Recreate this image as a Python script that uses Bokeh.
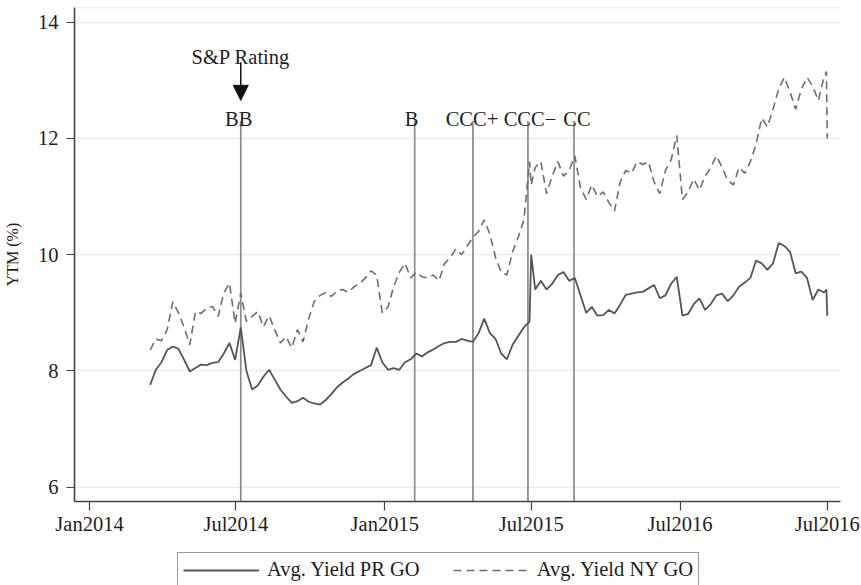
import pandas as pd
from bokeh.plotting import figure
from bokeh.layouts import column
from bokeh.models import (ColumnDataSource, FixedTicker, Span, Arrow, NormalHead,
                          Legend, LegendItem, Range1d)
from bokeh.core.properties import value
from bokeh.embed import file_html
from bokeh.resources import INLINE

# ---------------- data ----------------
dates = [
    "2014-03-17", "2014-03-24", "2014-03-31",
    "2014-04-07", "2014-04-14", "2014-04-21", "2014-04-28",
    "2014-05-05", "2014-05-12", "2014-05-19", "2014-05-26",
    "2014-06-02", "2014-06-09", "2014-06-16", "2014-06-23", "2014-06-30",
    "2014-07-07", "2014-07-14", "2014-07-21", "2014-07-28",
    "2014-08-04", "2014-08-11", "2014-08-18", "2014-08-25",
    "2014-09-01", "2014-09-08", "2014-09-15", "2014-09-22", "2014-09-29",
    "2014-10-06", "2014-10-13", "2014-10-20", "2014-10-27",
    "2014-11-03", "2014-11-10", "2014-11-17", "2014-11-24",
    "2014-12-01", "2014-12-08", "2014-12-15", "2014-12-22", "2014-12-29",
    "2015-01-05", "2015-01-12", "2015-01-19", "2015-01-26",
    "2015-02-02", "2015-02-09", "2015-02-16", "2015-02-23",
    "2015-03-02", "2015-03-09", "2015-03-16", "2015-03-23", "2015-03-30",
    "2015-04-06", "2015-04-13", "2015-04-20", "2015-04-27",
    "2015-05-04", "2015-05-11", "2015-05-18", "2015-05-25",
    "2015-06-01", "2015-06-08", "2015-06-15", "2015-06-22", "2015-06-29",
    "2015-07-01",
    "2015-07-06", "2015-07-13", "2015-07-20", "2015-07-27",
    "2015-08-03", "2015-08-10", "2015-08-17", "2015-08-24", "2015-08-31",
    "2015-09-07", "2015-09-14", "2015-09-21", "2015-09-28",
    "2015-10-05", "2015-10-12", "2015-10-19", "2015-10-26",
    "2015-11-02", "2015-11-09", "2015-11-16", "2015-11-23", "2015-11-30",
    "2015-12-07", "2015-12-14", "2015-12-21", "2015-12-28",
    "2016-01-04", "2016-01-11", "2016-01-18", "2016-01-25",
    "2016-02-01", "2016-02-08", "2016-02-15", "2016-02-22", "2016-02-29",
    "2016-03-07", "2016-03-14", "2016-03-21", "2016-03-28",
    "2016-04-04", "2016-04-11", "2016-04-18", "2016-04-25",
    "2016-05-02", "2016-05-09", "2016-05-16", "2016-05-23", "2016-05-30",
    "2016-06-06", "2016-06-13", "2016-06-20", "2016-06-27",
    "2016-06-30", "2016-07-01",
]

pr_go = [
    7.76, 8.02, 8.15,
    8.36, 8.42, 8.38, 8.19,
    7.99, 8.05, 8.11, 8.10,
    8.14, 8.15, 8.30, 8.48, 8.19,
    8.75, 8.00, 7.68, 7.75,
    7.90, 8.02, 7.85, 7.68,
    7.56, 7.45, 7.48, 7.54, 7.47,
    7.44, 7.42, 7.50, 7.60,
    7.72, 7.80, 7.87, 7.95,
    8.00, 8.05, 8.10, 8.40, 8.15,
    8.02, 8.05, 8.02, 8.15,
    8.20, 8.30, 8.25, 8.32,
    8.37, 8.43, 8.48, 8.50, 8.50,
    8.55, 8.52, 8.50, 8.65,
    8.90, 8.65, 8.55, 8.30,
    8.20, 8.45, 8.60, 8.75, 8.85,
    10.00,
    9.40, 9.55, 9.40, 9.50,
    9.65, 9.70, 9.55, 9.60, 9.30,
    9.00, 9.10, 8.95, 8.96,
    9.05, 8.99, 9.14, 9.31,
    9.33, 9.35, 9.36, 9.42, 9.48,
    9.25, 9.30, 9.50, 9.62,
    8.95, 8.98, 9.15, 9.25,
    9.05, 9.15, 9.30, 9.33, 9.20,
    9.30, 9.45, 9.52, 9.60,
    9.90, 9.85, 9.74, 9.85,
    10.20, 10.15, 10.05, 9.68, 9.71,
    9.60, 9.22, 9.40, 9.35,
    9.40, 8.95,
]

ny_go = [
    8.36, 8.55, 8.52,
    8.71, 9.19, 9.00, 8.75,
    8.45, 9.02, 8.99, 9.08,
    9.11, 8.94, 9.34, 9.51, 8.82,
    9.34, 8.85, 8.94, 9.02,
    8.76, 8.95, 8.71, 8.48,
    8.59, 8.40, 8.71, 8.50, 8.90,
    9.20, 9.30, 9.35, 9.28,
    9.38, 9.40, 9.35, 9.45,
    9.50, 9.60, 9.72, 9.65, 9.00,
    9.10, 9.45, 9.70, 9.85,
    9.60, 9.70, 9.62, 9.60,
    9.65, 9.55, 9.85, 9.95, 10.10,
    10.00, 10.15, 10.30, 10.40,
    10.60, 10.35, 9.95, 9.70,
    9.65, 10.05, 10.30, 10.60, 11.60,
    11.20,
    11.50, 11.60, 11.05, 11.35,
    11.60, 11.35, 11.45, 11.70, 11.15,
    10.95, 11.20, 11.00, 11.08,
    10.90, 10.75, 11.25, 11.45,
    11.40, 11.60, 11.55, 11.60, 11.25,
    11.05, 11.45, 11.63, 12.05,
    10.95, 11.08, 11.30, 11.11,
    11.35, 11.50, 11.70, 11.50, 11.28,
    11.20, 11.50, 11.40, 11.60,
    11.90, 12.35, 12.20, 12.50,
    12.85, 13.05, 12.80, 12.50, 12.85,
    13.05, 12.90, 12.65, 13.05,
    13.15, 12.00,
]

rating_dates = ["2014-07-07", "2015-02-07", "2015-04-20", "2015-06-27", "2015-08-23"]
rating_labels = ["BB", "B", "CCC+", "CCC\u2212", "CC"]

x_tick_dates = ["2014-01-01", "2014-07-01", "2015-01-01", "2015-07-01", "2016-01-01", "2016-07-01"]
x_tick_labels = ["Jan2014", "Jul2014", "Jan2015", "Jul2015", "Jul2016", "Jul2016"]
y_ticks = [6, 8, 10, 12, 14]
series_names = ["Avg. Yield PR GO", "Avg. Yield NY GO"]

assert len(dates) == len(pr_go) == len(ny_go)

# ---------------- style / layout ----------------
FONT = "Liberation Serif"
TXT = "#1e1e1e"
FS = "20.5px"
PR_STYLE = dict(line_color="#555555", line_width=1.8)
NY_STYLE = dict(line_color="#6e6e6e", line_width=1.6, line_dash="8 5")
LABEL_DX = [-2, -3, -1, 2, 3]   # pixel nudges of the rating labels


def ms(d):
    return int(pd.Timestamp(d).value // 10**6)


DAY = 86400000
x0 = ms("2014-01-01") - 18.54 * DAY
x1 = ms("2014-01-01") + 928.4 * DAY
Y0, Y1 = 5.754, 14.252

src = ColumnDataSource(dict(date=pd.to_datetime(dates), pr=pr_go, ny=ny_go))
rsrc = ColumnDataSource(dict(x=pd.to_datetime(rating_dates), label=rating_labels, dx=LABEL_DX))

p = figure(width=861, height=537, x_axis_type="datetime",
           x_range=Range1d(x0, x1), y_range=Range1d(Y0, Y1),
           output_backend="svg", toolbar_location=None,
           min_border_left=74, min_border_right=21, min_border_top=7, min_border_bottom=35)
p.outline_line_color = None
p.background_fill_color = "white"
p.border_fill_color = "white"

p.xgrid.grid_line_color = None
p.ygrid.grid_line_color = "#ececec"
p.ygrid.grid_line_width = 1.5

p.add_layout(Span(location=Y1, dimension="width", line_color="#e6e6e6", line_width=1.5))

# axes
p.xaxis.ticker = FixedTicker(ticks=[ms(d) for d in x_tick_dates])
p.xaxis.major_label_overrides = {ms(d): lab for d, lab in zip(x_tick_dates, x_tick_labels)}
p.yaxis.ticker = FixedTicker(ticks=y_ticks)
p.yaxis.axis_label = "YTM (%)"

for ax in (p.xaxis[0], p.yaxis[0]):
    ax.axis_line_color = "#444444"
    ax.axis_line_width = 1.6
    ax.major_tick_line_color = "#444444"
    ax.major_tick_line_width = 1.2
    ax.major_tick_in = 0
    ax.minor_tick_line_color = None
    ax.major_label_text_font = FONT
    ax.major_label_text_font_size = FS
    ax.major_label_text_color = TXT
    ax.axis_label_text_font = FONT
    ax.axis_label_text_font_size = "16px"
    ax.axis_label_text_font_style = "normal"
    ax.axis_label_text_color = TXT

p.xaxis.major_tick_out = 9
p.xaxis.major_label_standoff = 2
p.yaxis.major_tick_out = 8
p.yaxis.major_label_standoff = 8
p.yaxis.axis_label_standoff = 14

# rating lines
p.segment(x0="x", y0=5.0, x1="x", y1=12.30, source=rsrc,
          line_color="#8a8a8a", line_width=1.7)
p.text(x="x", y=12.33, text="label", x_offset="dx", source=rsrc, text_align="center",
       text_baseline="alphabetic", text_font=value(FONT), text_font_size=FS,
       text_color=TXT)

# S&P annotation
bb = pd.to_datetime(rating_dates[0])
p.text(x=[bb], y=[13.40], text=["S&P Rating"], text_align="center",
       text_baseline="alphabetic", text_font=value(FONT), text_font_size=FS,
       text_color=TXT)
p.add_layout(Arrow(x_start=ms(rating_dates[0]), y_start=13.31,
                   x_end=ms(rating_dates[0]), y_end=12.655,
                   line_color="#111111", line_width=1.5,
                   end=NormalHead(size=15, fill_color="#111111", line_color="#111111")))

# series
p.line(x="date", y="pr", source=src, **PR_STYLE)
p.line(x="date", y="ny", source=src, **NY_STYLE)

# ---------------- legend strip (separate figure below) ----------------
p2 = figure(width=861, height=48, x_range=Range1d(0, 1), y_range=Range1d(0, 1),
            x_axis_location=None, y_axis_location=None,
            output_backend="svg", toolbar_location=None,
            min_border_left=0, min_border_right=0, min_border_top=0, min_border_bottom=0)
p2.grid.grid_line_color = None
p2.outline_line_color = None
p2.background_fill_color = "white"
p2.border_fill_color = "white"
# same series, drawn far outside this strip's ranges: only their legend samples show
lr_pr = p2.line(x="date", y="pr", source=src, **PR_STYLE)
lr_ny = p2.line(x="date", y="ny", source=src, **NY_STYLE)

legend = Legend(items=[LegendItem(label=series_names[0], renderers=[lr_pr]),
                       LegendItem(label=series_names[1], renderers=[lr_ny])],
                orientation="horizontal", location=(103, -2),
                glyph_width=76, glyph_height=20, label_standoff=8, spacing=33,
                padding=5, margin=0,
                label_text_font=FONT, label_text_font_size=FS, label_text_color=TXT,
                border_line_color="#333333", border_line_width=1,
                background_fill_color="white", background_fill_alpha=1)
p2.add_layout(legend)

layout = column(p, p2, spacing=0)
open("out.html", "w").write(file_html(layout, INLINE))
